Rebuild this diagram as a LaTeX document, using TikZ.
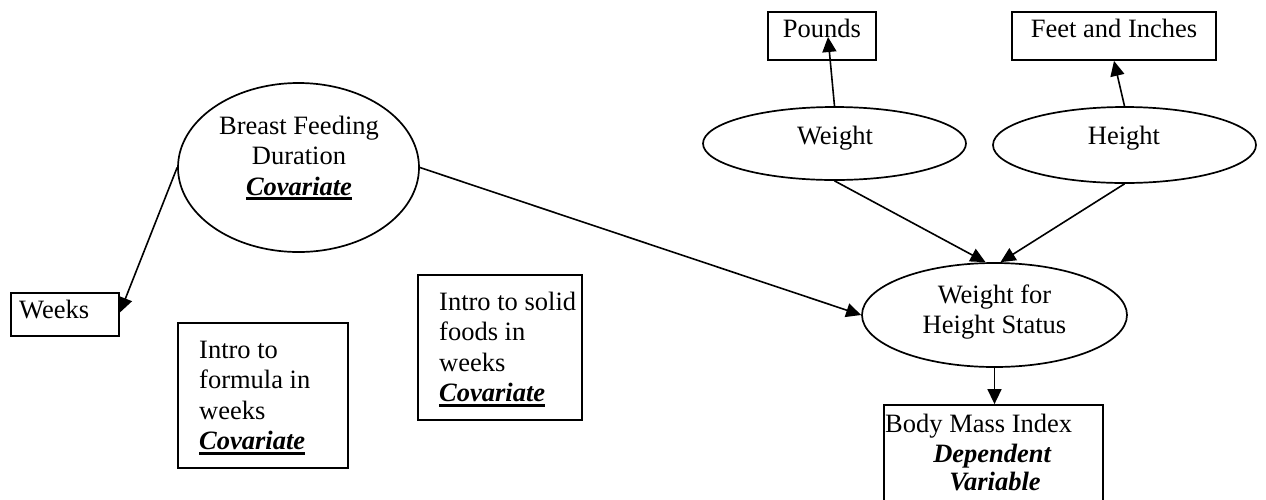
\documentclass[tikz,border=0pt]{standalone}
\usepackage{fontspec}
\setmainfont{Liberation Serif}
\usetikzlibrary{shapes.geometric,arrows.meta,calc}
\newsavebox\ulsave
\newcommand\thul[1]{\sbox\ulsave{#1}\rlap{\rule[-5pt]{\wd\ulsave}{2.6pt}}\usebox\ulsave}
\newcommand\covlab{\thul{\textbf{\textit{Covariate}}}}
\tikzset{
  ell/.style={draw,ellipse,line width=1.7pt,inner sep=0pt},
  boxnode/.style={draw,rectangle,line width=1.8pt,inner sep=0pt},
  txt/.style={inner sep=0pt,font=\fontsize{26.5}{30.5}\selectfont},
  conn/.style={line width=1.6pt,-{Triangle[length=15pt,width=14pt]}}
}
\begin{document}
\begin{tikzpicture}[x=1pt,y=-1pt]
\useasboundingbox (0,0) rectangle (1266,499);
\clip (0,0) rectangle (1266,499);
\fill[white] (0,0) rectangle (1266,499);
% shapes
\node[ell,minimum width=241pt,minimum height=169pt] (bf) at (298.5,167.5) {};
\node[boxnode,minimum width=108pt,minimum height=43pt] (weeks) at (65,314.5) {};
\node[boxnode,minimum width=170pt,minimum height=145pt] (formula) at (263,395.5) {};
\node[boxnode,minimum width=164pt,minimum height=145pt] (solid) at (500,347.5) {};
\node[boxnode,minimum width=108pt,minimum height=48pt] (pounds) at (822,36) {};
\node[boxnode,minimum width=204pt,minimum height=48pt] (feet) at (1114,36) {};
\node[ell,minimum width=263pt,minimum height=73pt] (weight) at (834.5,143.5) {};
\node[ell,minimum width=263pt,minimum height=76pt] (height) at (1124.5,145) {};
\node[ell,minimum width=265pt,minimum height=104pt] (wfh) at (994.5,315) {};
\node[boxnode,minimum width=219pt,minimum height=120pt] (bmi) at (993.5,465) {};
% texts
\node[txt,anchor=base] (bftxt) at (299,134) {\begin{tabular}[t]{@{}c@{}}Breast Feeding\\Duration\\\covlab\end{tabular}};
\node[txt,anchor=base] (weighttxt) at (835,144) {Weight};
\node[txt,anchor=base] (heighttxt) at (1124,144) {Height};
\node[txt,anchor=base] (wfhtxt) at (994.5,303) {\begin{tabular}[t]{@{}c@{}}Weight for\\Height Status\end{tabular}};
\node[txt,anchor=base] (poundstxt) at (822,37) {Pounds};
\node[txt,anchor=base] (feettxt) at (1114,37) {Feet and Inches};
\node[txt,anchor=base west] (weekstxt) at (19,318) {Weeks};
\node[txt,anchor=base west] (formulatxt) at (199,358) {\begin{tabular}[t]{@{}l@{}}Intro to\\formula in\\weeks\\\covlab\end{tabular}};
\node[txt,anchor=base west] (solidtxt) at (439,310) {\begin{tabular}[t]{@{}l@{}}Intro to solid\\foods in\\weeks\\\covlab\end{tabular}};
\node[txt,anchor=base west] (bmitxt) at (885,432) {Body Mass Index};
\node[txt,anchor=base] (deptxt) at (992.5,462) {\textbf{\textit{Dependent}}};
\node[txt,anchor=base] (vartxt) at (995,490) {\textbf{\textit{Variable}}};
% connectors
\draw[conn] (bf.west) -- ($(weeks.east)+(0,-2)$);
\draw[conn] (bf.east) -- (wfh.west);
\draw[conn] (weight.south) -- ($(wfh.north)+(-9,0)$);
\draw[conn] (height.south) -- ($(wfh.north)+(6,0)$);
\draw[conn] (weight.north) -- ($(pounds.center)+(6,1)$);
\draw[conn] (height.north) -- (feet.south);
\draw[conn] (wfh.south) -- (wfh.south |- bmi.north);
\end{tikzpicture}
\end{document}
